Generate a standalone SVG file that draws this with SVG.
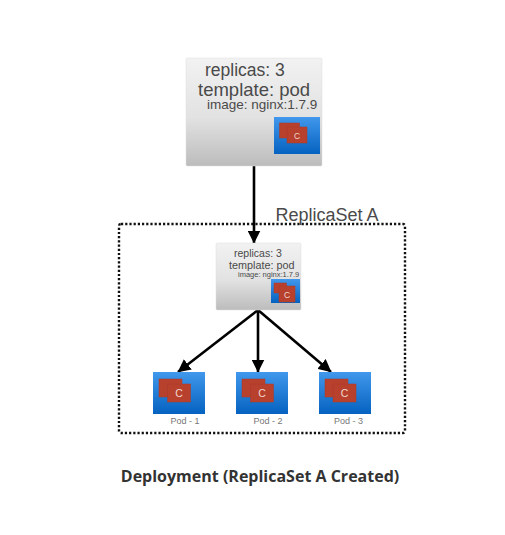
<svg xmlns="http://www.w3.org/2000/svg" width="505" height="535" viewBox="0 0 505 535">
<style>
text{font-family:"Liberation Sans",Arial,sans-serif;fill:#4a4a4a}
.red{fill:#b8412d;stroke:#a83a2b;stroke-width:.5}
.cl{fill:#f0d8d0;text-anchor:middle}
.pl{fill:#777;font-size:9px}
.con{stroke:#000;stroke-width:2.6;fill:none;marker-end:url(#ah)}
</style>
<defs>
<linearGradient id="g" x1="0" y1="0" x2="0" y2="1"><stop offset="0" stop-color="#f2f2f2"/><stop offset=".55" stop-color="#e2e2e2"/><stop offset="1" stop-color="#bcbcbc"/></linearGradient>
<linearGradient id="b" x1="0" y1="0" x2="0" y2="1"><stop offset="0" stop-color="#4198ec"/><stop offset="1" stop-color="#0562c0"/></linearGradient>
<marker id="ah" viewBox="0 0 12 12" refX="11.500" refY="6" markerUnits="userSpaceOnUse" markerWidth="13" markerHeight="13" orient="auto"><path d="M0 0L12 6L0 12Z" fill="#000"/></marker>
</defs>
<rect width="505" height="535" fill="#fff"/>
<g id="replicaset-frame"><rect x="119" y="224" width="286" height="209" rx="2" fill="none" stroke="#111" stroke-width="2.400" stroke-dasharray="2.200 2"/>
<text x="275.500" y="221" font-size="18">ReplicaSet A</text></g>
<g id="connectors">
<path class="con" d="M254 165V243"/>
<path class="con" d="M258 310L178 372"/>
<path class="con" d="M258 310V372"/>
<path class="con" d="M258 310L331 372"/>
</g>
<g id="deployment">
<rect x="186" y="58" width="136" height="108" rx="1.500" fill="url(#g)" stroke="#ddd" stroke-width=".5"/>
<text x="205" y="76" font-size="17.500">replicas: 3</text>
<text x="198" y="96" font-size="18.500">template: pod</text>
<text x="207" y="109" font-size="13.500">image: nginx:1.7.9</text>
<rect x="274" y="117" width="46" height="37" fill="url(#b)"/>
<rect class="red" x="279.500" y="123" width="20" height="15"/>
<rect class="red" x="287" y="127" width="20" height="16"/>
<text class="cl" x="297" y="139" font-size="8.500">C</text>
</g>
<g id="replicaset">
<rect x="216" y="243" width="85" height="67" rx="1.500" fill="url(#g)" stroke="#ddd" stroke-width=".5"/>
<text x="234" y="257" font-size="10.500">replicas: 3</text>
<text x="229" y="269" font-size="10.800">template: pod</text>
<text x="238" y="277" font-size="7.500">image: nginx:1.7.9</text>
<rect x="271" y="279" width="29" height="24" fill="url(#b)"/>
<rect class="red" x="274" y="283" width="12.500" height="10"/>
<rect class="red" x="279" y="286" width="16" height="16"/>
<text class="cl" x="287" y="298" font-size="8.500">C</text>
</g>
<g id="pod-1">
<rect x="153" y="372" width="52" height="42" fill="url(#b)"/>
<rect class="red" x="159" y="379" width="23" height="18"/>
<rect class="red" x="167.500" y="384" width="23" height="18"/>
<text class="cl" x="179" y="396.500" font-size="10.500">C</text>
<text class="pl" x="170.500" y="424">Pod - 1</text>
</g>
<g id="pod-2">
<rect x="236" y="372" width="52" height="42" fill="url(#b)"/>
<rect class="red" x="242" y="379" width="23" height="18"/>
<rect class="red" x="250.500" y="384" width="23" height="18"/>
<text class="cl" x="262" y="396.500" font-size="10.500">C</text>
<text class="pl" x="253.500" y="424">Pod - 2</text>
</g>
<g id="pod-3">
<rect x="319" y="372" width="52" height="42" fill="url(#b)"/>
<rect class="red" x="325" y="379" width="23" height="18"/>
<rect class="red" x="333" y="384" width="23" height="18"/>
<text class="cl" x="344.500" y="396.500" font-size="10.500">C</text>
<text class="pl" x="334" y="424">Pod - 3</text>
</g>
<text x="260" y="481.500" text-anchor="middle" style="font-family:'Open Sans',sans-serif;font-weight:700;fill:#333" font-size="16">Deployment (ReplicaSet A Created)</text>
</svg>
